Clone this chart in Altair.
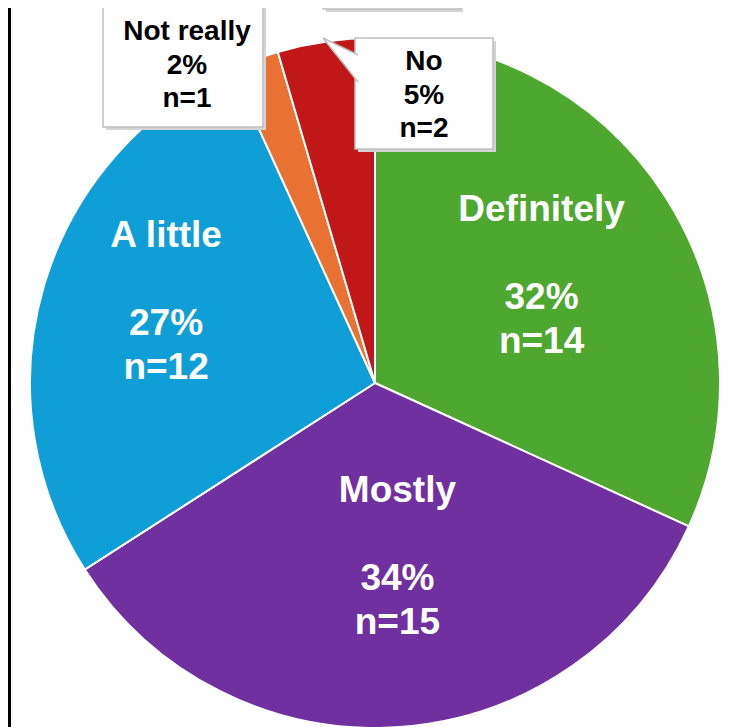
import altair as alt
import pandas as pd

# ---- data ----
CATEGORIES = ["Definitely", "Mostly", "A little", "Not really", "No"]
COUNTS = [14, 15, 12, 1, 2]
PERCENTS = ["32%", "34%", "27%", "2%", "5%"]
COLORS = ["#4EA72E", "#7030A0", "#0F9ED5", "#E97132", "#C01818"]

# ---- styling / layout ----
# inside labels: (radius, dx, dy) per slice
INSIDE_STYLE = {
    "Definitely": (198, 0, 0),
    "Mostly": (174, 10, 0),
    "A little": (224, 6, -18),
}
W, H = 713, 719
CX, CY = 367, 375
R = 345
FONT = "Liberation Sans"
BOX_STROKE = "#BFBFBF"
SHADOW = "#D4D4D4"
BIG_LH = 44

df = pd.DataFrame({"category": CATEGORIES, "n": COUNTS, "pct": PERCENTS})
df["idx"] = list(range(len(df)))
df["vals"] = [f"{p}\nn={n}" for p, n in zip(PERCENTS, COUNTS)]
df["callout"] = [f"{c}\n{p}\nn={n}" for c, p, n in zip(CATEGORIES, PERCENTS, COUNTS)]

one = pd.DataFrame({"k": [0]})

base = alt.Chart(df).encode(
    theta=alt.Theta("n:Q", stack=True),
    order=alt.Order("idx:Q", sort="ascending"),
)

pie = base.mark_arc(outerRadius=R, stroke="white", strokeWidth=2).encode(
    color=alt.Color("category:N",
                    scale=alt.Scale(domain=CATEGORIES, range=COLORS),
                    legend=None),
    x=alt.value(CX), y=alt.value(CY),
)


def inside_label(cat):
    r, dx, dy = INSIDE_STYLE[cat]
    out = []
    for field, off in (("category", -1.5 * BIG_LH), ("vals", 0.5 * BIG_LH)):
        out.append(base.transform_calculate(
            t=f"datum.category == '{cat}' ? datum.{field} : ''"
        ).mark_text(
            radius=r, dx=dx, dy=dy + off,
            font=FONT, fontSize=37, fontWeight="bold", color="white",
            lineBreak="\n", lineHeight=BIG_LH, baseline="middle", align="center",
        ).encode(text="t:N", x=alt.value(CX), y=alt.value(CY)))
    return out


labels = [lyr for c in INSIDE_STYLE for lyr in inside_label(c)]


def box(x0, y0, x1, y1, shadow=True):
    layers = []
    if shadow:
        layers.append(alt.Chart(one).mark_rect(fill=SHADOW).encode(
            x=alt.value(x0 + 3), x2=alt.value(x1 + 3),
            y=alt.value(y0 + 3), y2=alt.value(y1 + 3)))
    layers.append(alt.Chart(one).mark_rect(
        fill="white", stroke=BOX_STROKE, strokeWidth=1.5).encode(
        x=alt.value(x0), x2=alt.value(x1),
        y=alt.value(y0), y2=alt.value(y1)))
    return layers


def callout_text(cat, cx, cy):
    return alt.Chart(df).transform_filter(
        alt.datum.category == cat
    ).mark_text(
        font=FONT, fontSize=28, fontWeight="bold", color="black",
        lineBreak="\n", lineHeight=33.5, baseline="middle", align="center",
    ).encode(text="callout:N", x=alt.value(cx), y=alt.value(cy))


top_box = box(315, -30, 452, 1)
nr_box = box(95, -6, 255, 119)
no_box = box(347, 30, 485, 141)

pointer = alt.Chart(one).mark_point(
    shape="M 0.82 -0.227 L -0.773 -1 L 0.82 1",
    size=1936, filled=True, fill="white", stroke=BOX_STROKE,
    strokeWidth=1.5, opacity=1,
).encode(x=alt.value(332), y=alt.value(52))

nr_text = callout_text("Not really", 179, 24)
no_text = callout_text("No", 416, 54)

border = alt.Chart(one).mark_rule(color="black", strokeWidth=3).encode(
    x=alt.value(1.5), y=alt.value(0), y2=alt.value(H))

chart = alt.layer(
    pie, *labels, *top_box, *nr_box, nr_text, *no_box, pointer, no_text, border
).properties(
    width=W, height=H, padding=0,
    autosize=alt.AutoSizeParams(type="none"),
    background="white",
).configure_view(strokeWidth=0)

chart.save("out.html", embed_options={"renderer": "svg", "actions": False})
